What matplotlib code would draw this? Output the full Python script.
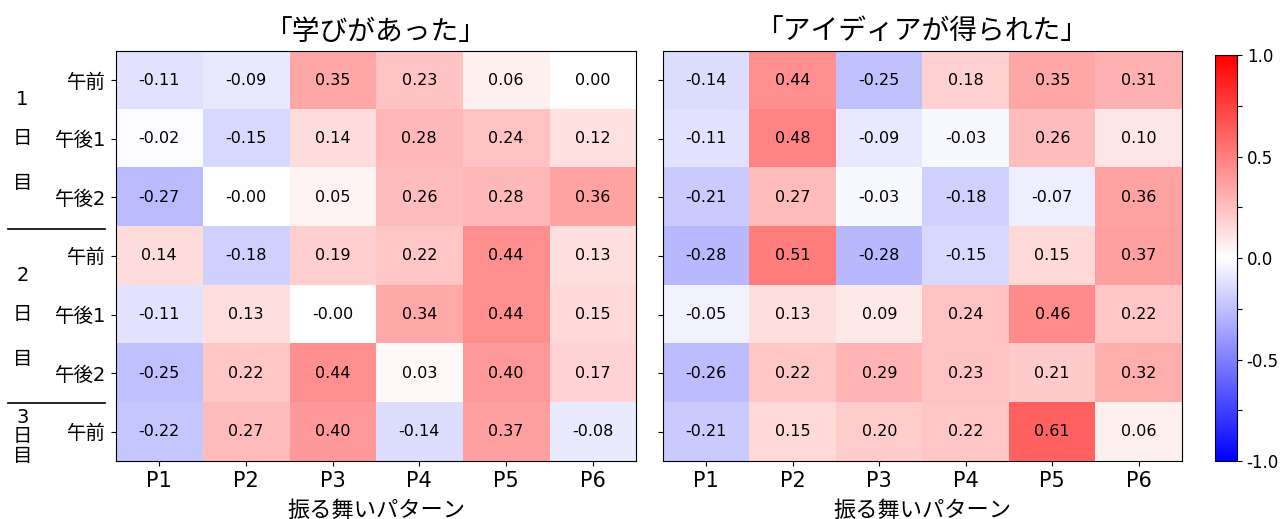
import numpy as np
import matplotlib.pyplot as plt

plt.rcParams['font.family'] = ['DejaVu Sans', 'Noto Sans CJK JP']
plt.rcParams['axes.unicode_minus'] = False

patterns = ['P1', 'P2', 'P3', 'P4', 'P5', 'P6']
sessions = ['午前', '午後1', '午後2', '午前', '午後1', '午後2', '午前']

# 「学びがあった」
learn = np.array([
    [-0.11, -0.09, 0.35, 0.23, 0.06, 0.00],
    [-0.02, -0.15, 0.14, 0.28, 0.24, 0.12],
    [-0.27, -0.001, 0.05, 0.26, 0.28, 0.36],
    [0.14, -0.18, 0.19, 0.22, 0.44, 0.13],
    [-0.11, 0.13, -0.001, 0.34, 0.44, 0.15],
    [-0.25, 0.22, 0.44, 0.03, 0.40, 0.17],
    [-0.22, 0.27, 0.40, -0.14, 0.37, -0.08],
])

# 「アイディアが得られた」
idea = np.array([
    [-0.14, 0.44, -0.25, 0.18, 0.35, 0.31],
    [-0.11, 0.48, -0.09, -0.03, 0.26, 0.10],
    [-0.21, 0.27, -0.03, -0.18, -0.07, 0.36],
    [-0.28, 0.51, -0.28, -0.15, 0.15, 0.37],
    [-0.05, 0.13, 0.09, 0.24, 0.46, 0.22],
    [-0.26, 0.22, 0.29, 0.23, 0.21, 0.32],
    [-0.21, 0.15, 0.20, 0.22, 0.61, 0.06],
])

titles = ['「学びがあった」', '「アイディアが得られた」']

fig = plt.figure(figsize=(12.84, 5.19), dpi=100)
ax1 = fig.add_axes([0.0903, 0.1118, 0.405, 0.790])
ax2 = fig.add_axes([0.5164, 0.1118, 0.4042, 0.790])
cax = fig.add_axes([0.9463, 0.1118, 0.0171, 0.782])

for ax, data, title in zip([ax1, ax2], [learn, idea], titles):
    im = ax.imshow(data, cmap='bwr', vmin=-1, vmax=1, aspect='auto')
    for i in range(data.shape[0]):
        for j in range(data.shape[1]):
            ax.text(j, i, f'{data[i, j]:.2f}', ha='center', va='center', fontsize=11.5)
    ax.set_xticks(range(len(patterns)))
    ax.set_xticklabels(patterns, fontsize=15)
    ax.set_yticks(range(len(sessions)))
    ax.set_xlabel('振る舞いパターン', fontsize=16, labelpad=7)
    ax.set_title(title, fontsize=20, pad=8)

ax1.set_yticklabels(sessions, fontsize=14)
ax2.set_yticklabels([])

# day labels and separators on the left
tr = ax1.get_yaxis_transform()
day_x = -0.18
for k, d in enumerate(['1', '2']):
    base = k * 3
    ax1.text(day_x, base + 0.33, d, transform=tr, ha='center', va='center', fontsize=14)
    ax1.text(day_x, base + 1.0, '日', transform=tr, ha='center', va='center', fontsize=14)
    ax1.text(day_x, base + 1.77, '目', transform=tr, ha='center', va='center', fontsize=14)
ax1.text(day_x, 5.76, '3', transform=tr, ha='center', va='center', fontsize=14)
ax1.text(day_x, 6.09, '日', transform=tr, ha='center', va='center', fontsize=14)
ax1.text(day_x, 6.42, '目', transform=tr, ha='center', va='center', fontsize=14)
for yb in [2.54, 5.51]:
    ax1.plot([-0.207, -0.021], [yb, yb], transform=tr, color='black', lw=1.2, clip_on=False)

cb = fig.colorbar(im, cax=cax, ticks=[-1, -0.75, -0.5, -0.25, 0, 0.25, 0.5, 0.75, 1])
cb.ax.set_yticklabels(['-1.0', '', '-0.5', '', '0.0', '', '0.5', '', '1.0'], fontsize=12)

fig.savefig('out.png', dpi=100)
